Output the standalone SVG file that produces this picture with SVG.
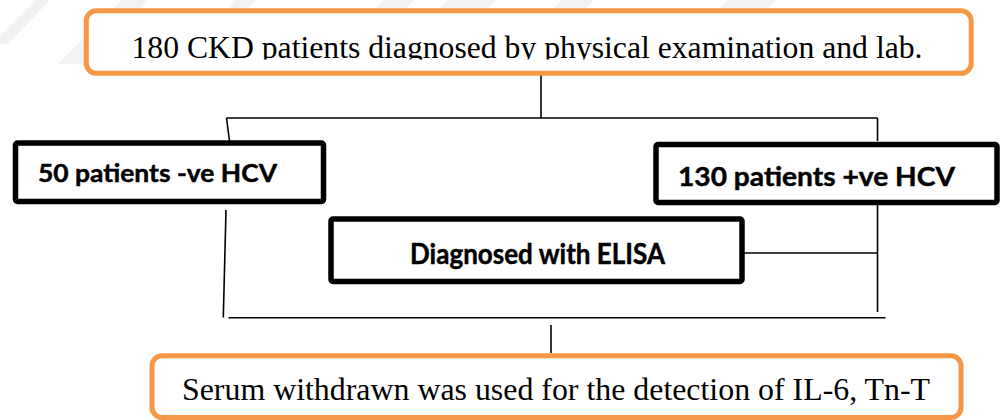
<svg xmlns="http://www.w3.org/2000/svg" width="1000" height="420" viewBox="0 0 1000 420">
  <defs>
    <style>
      .orange { fill: #ffffff; stroke: #F79646; stroke-width: 5; }
      .black { fill: #ffffff; stroke: #000000; stroke-width: 5.5; }
      .serif { font-family: "Liberation Serif", "Times New Roman", serif; font-size: 32px; fill: #000000; }
      .bold { font-family: Lato, "Liberation Sans", sans-serif; font-weight: bold; fill: #000000; stroke: #000000; stroke-width: 0.45; }
      .conn { stroke: #000000; stroke-width: 1.6; fill: none; }
      .wm { fill: #f2f2f2; }
    </style>
    <clipPath id="topclip">
      <rect x="88" y="13" width="880" height="46.5"/>
    </clipPath>
  </defs>
  <rect x="0" y="0" width="1000" height="420" fill="#ffffff"/>
  <g id="watermark">
    <polygon class="wm" points="36,0 50,0 8,44 0,44 0,36"/>
    <polygon class="wm" points="122,0 148,0 84,64 58,64"/>
    <polygon class="wm" points="236,0 256,0 248,8 228,8"/>
    <polygon class="wm" points="384,0 414,0 406,8 376,8"/>
    <polygon class="wm" points="448,0 496,0 488,8 440,8"/>
    <polygon class="wm" points="562,0 594,0 586,8 554,8"/>
    <polygon class="wm" points="728,0 776,0 768,8 720,8"/>
  </g>
  <g id="connectors">
    <line class="conn" x1="541" y1="75" x2="541" y2="118"/>
    <line class="conn" x1="226.5" y1="118" x2="877.5" y2="118"/>
    <line class="conn" x1="226.5" y1="118" x2="229.5" y2="141"/>
    <line class="conn" x1="877.5" y1="118" x2="877.5" y2="141"/>
    <line class="conn" x1="877.5" y1="205" x2="877.5" y2="312"/>
    <line class="conn" x1="742" y1="253" x2="877.5" y2="253"/>
    <line class="conn" x1="226" y1="210" x2="223.3" y2="317.5"/>
    <line class="conn" x1="228.5" y1="317.7" x2="885.5" y2="317.7"/>
    <line class="conn" x1="551" y1="325" x2="551" y2="353"/>
  </g>
  <g id="node-top">
    <rect class="orange" x="86.3" y="10.8" width="884.9" height="62.5" rx="10" ry="10"/>
    <text class="serif" x="131.5" y="57.5" textLength="791" lengthAdjust="spacingAndGlyphs" clip-path="url(#topclip)">180 CKD patients diagnosed by physical examination and lab.</text>
  </g>
  <g id="node-negative">
    <rect class="black" x="15.5" y="143" width="308" height="58.5" rx="2" ry="2"/>
    <text class="bold" x="38" y="182" font-size="25" textLength="239" lengthAdjust="spacingAndGlyphs">50 patients -ve HCV</text>
  </g>
  <g id="node-positive">
    <rect class="black" x="656" y="144.5" width="341" height="58" rx="2" ry="2"/>
    <text class="bold" x="678" y="185.5" font-size="27" textLength="277" lengthAdjust="spacingAndGlyphs">130 patients +ve HCV</text>
  </g>
  <g id="node-elisa">
    <rect class="black" x="331" y="219" width="411" height="62.5" rx="2" ry="2"/>
    <text class="bold" x="410" y="263.5" font-size="28" textLength="255" lengthAdjust="spacingAndGlyphs">Diagnosed with ELISA</text>
  </g>
  <g id="node-bottom">
    <rect class="orange" x="152" y="355.8" width="809" height="61.7" rx="10" ry="10"/>
    <text class="serif" x="182" y="400" textLength="748" lengthAdjust="spacingAndGlyphs">Serum withdrawn was used for the detection of IL-6, Tn-T</text>
  </g>
</svg>
